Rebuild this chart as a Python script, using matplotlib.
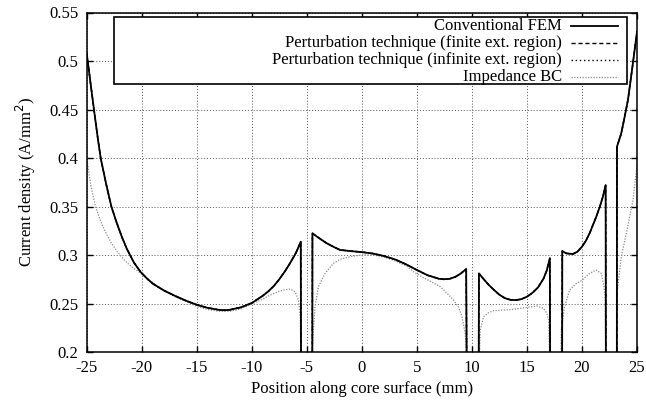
import numpy as np
import matplotlib
matplotlib.use("Agg")
import matplotlib.pyplot as plt
from matplotlib.patches import Rectangle
from matplotlib.lines import Line2D

nan = np.nan

# ---------------- data ----------------
fem_x = [-25, -24.65, -24.34, -24, -23.73, -23.25, -22.76, -22.3, -21.8, -21.36, -20.7, -20.1,
         -19.5, -19, -18, -17, -16, -15, -14, -13, -12.5, -12, -11, -10, -9, -8.5, -8, -7.5,
         -7, -6.5, -6.25, -6, -5.8, -5.55, -5.53, nan,
         -4.5, -4.49, -4.09, -3.6, -3.18, -2.5, -1.97, -1, 0, 1, 2, 3, 4, 5, 6, 7, 7.42, 8,
         8.5, 9, 9.48, 9.52, nan,
         10.62, 10.64, 11, 11.5, 12, 12.5, 13, 13.5, 14, 14.5, 15, 15.5, 16, 16.5, 16.8, 17.08,
         17.1, nan,
         18.2, 18.21, 18.57, 19.18, 19.6, 20, 20.35, 20.69, 21.3, 21.6, 21.9, 22.15, 22.17, nan,
         23.17, 23.18, 23.57, 23.88, 24.18, 24.55, 25]
fem_y = [0.508, 0.477, 0.45, 0.421, 0.40, 0.374, 0.35, 0.334, 0.3185, 0.3065, 0.292, 0.2825,
         0.2755, 0.2705, 0.2635, 0.258, 0.253, 0.2487, 0.2455, 0.2435, 0.243, 0.2435, 0.246,
         0.2505, 0.258, 0.2625, 0.268, 0.275, 0.283, 0.292, 0.297, 0.302, 0.307, 0.3137, 0.2,
         nan,
         0.2, 0.3224, 0.319, 0.3152, 0.312, 0.308, 0.3052, 0.304, 0.303, 0.3015, 0.299,
         0.2955, 0.2905, 0.2845, 0.279, 0.2755, 0.275, 0.2755, 0.2775, 0.281, 0.2855, 0.2, nan,
         0.2, 0.281, 0.276, 0.2695, 0.264, 0.259, 0.2555, 0.2538, 0.2535, 0.2545, 0.257,
         0.261, 0.2665, 0.2755, 0.284, 0.2966, 0.2, nan,
         0.2, 0.304, 0.3017, 0.301, 0.3035, 0.3086, 0.3145, 0.3223, 0.3395, 0.349, 0.360,
         0.372, 0.2, nan,
         0.2, 0.4116, 0.4254, 0.4426, 0.46, 0.491, 0.53]

# perturbation technique results coincide with conventional FEM at this scale
pert_fin_x = list(fem_x)
pert_fin_y = list(fem_y)
pert_inf_x = list(fem_x)
pert_inf_y = list(fem_y)

imp_x = [-25, -24.8, -24.6, -24.2, -23.8, -23.4, -22.8, -22.2, -21.6, -21, -20, -19, -18, -17,
         -16, -15, -14, -13, -12, -11, -10, -9, -8.33, -7.5, -7.12, -6.5, -6.06, -5.76, -5.6,
         -5.55, nan,
         -4.5, -4.4, -4.25, -3.95, -3.34, -2.58, -1.97, -1, 0, 1, 2, 3, 4, 4.7, 5.5, 6.3,
         7.12, 7.7, 8.33, 8.8, 9.1, 9.39, 9.5, nan,
         10.7, 10.76, 11.06, 11.5, 11.97, 13, 13.79, 15, 15.9, 16.5, 16.8, 16.97, 17.05, nan,
         18.1, 18.12, 18.42, 18.88, 19.4, 20, 20.69, 21.3, 21.76, 22.0, 22.12, 22.15, nan,
         23.18, 23.2, 23.57, 24.03, 24.64, 25]
imp_y = [0.40, 0.385, 0.37, 0.35, 0.337, 0.326, 0.313, 0.303, 0.295, 0.2885, 0.2805, 0.2715,
         0.2635, 0.2572, 0.252, 0.247, 0.2438, 0.242, 0.242, 0.2443, 0.2495, 0.2545, 0.2588,
         0.2625, 0.2639, 0.2649, 0.262, 0.2536, 0.2364, 0.2, nan,
         0.2, 0.2227, 0.2467, 0.2673, 0.281, 0.2914, 0.2955, 0.2985, 0.300, 0.300, 0.298,
         0.294, 0.289, 0.2828, 0.277, 0.2725, 0.2673, 0.261, 0.2536, 0.246, 0.2364, 0.219,
         0.2, nan,
         0.2, 0.2227, 0.2364, 0.2405, 0.2426, 0.2433, 0.244, 0.246, 0.2474, 0.245, 0.240,
         0.233, 0.2, nan,
         0.2, 0.2227, 0.2467, 0.264, 0.270, 0.274, 0.281, 0.2845, 0.281, 0.267, 0.2536, 0.2,
         nan,
         0.24, 0.262, 0.298, 0.3223, 0.3567, 0.393]

series_labels = ["Conventional FEM",
                 "Perturbation technique (finite ext. region)",
                 "Perturbation technique (infinite ext. region)",
                 "Impedance BC"]

x_ticks = [-25, -20, -15, -10, -5, 0, 5, 10, 15, 20, 25]
x_tick_labels = ["-25", "-20", "-15", "-10", "-5", "0", "5", "10", "15", "20", "25"]
y_ticks = [0.2, 0.25, 0.3, 0.35, 0.4, 0.45, 0.5, 0.55]
y_tick_labels = ["0.2", "0.25", "0.3", "0.35", "0.4", "0.45", "0.5", "0.55"]

# ---------------- figure ----------------
plt.rcParams["font.family"] = ["Liberation Serif", "DejaVu Serif"]
plt.rcParams["font.size"] = 12

W, H = 646, 405
fig = plt.figure(figsize=(W / 100, H / 100), dpi=100)
L, R, T, B = 86.7, 637.0, 12.5, 352.0
ax = fig.add_axes([L / W, 1 - B / H, (R - L) / W, (B - T) / H])

ax.set_xlim(-25, 25)
ax.set_ylim(0.2, 0.55)
ax.set_xticks(x_ticks)
ax.set_xticklabels(x_tick_labels)
ax.set_yticks(y_ticks)
ax.set_yticklabels(y_tick_labels)
ax.tick_params(direction="in", length=4.5, width=1, top=True, right=True,
               labelsize=12)
ax.tick_params(axis="x", pad=5.5)
ax.tick_params(axis="y", pad=6)
for s in ax.spines.values():
    s.set_linewidth(1.1)
    s.set_zorder(6)

ax.grid(True, color="#555555", linestyle=(0, (1, 2)), linewidth=0.7, zorder=0)
ax.set_axisbelow(True)

styles = [dict(color="black", lw=1.3, ls="-"),
          dict(color="black", lw=1.0, ls=(0, (3, 2))),
          dict(color="black", lw=1.0, ls=(0, (1, 2))),
          dict(color="#8a8a8a", lw=0.9, ls=(0, (1, 1.2)))]

ax.plot(imp_x, imp_y, zorder=3, **styles[3])
ax.plot(pert_inf_x, pert_inf_y, zorder=4, **styles[2])
ax.plot(pert_fin_x, pert_fin_y, zorder=4, **styles[1])
ax.plot(fem_x, fem_y, zorder=5, **styles[0])

ax.set_xlabel("Position along core surface (mm)", fontsize=12, labelpad=4)
ax.set_ylabel("Current density (A/mm$^2$)", fontsize=12, labelpad=8)


def fy(py):
    return 1 - (py - T) / (B - T)


def fx(px):
    return (px - L) / (R - L)


# legend box (gnuplot style: wide box, text right-aligned, samples on right)
ax.add_patch(Rectangle((fx(114.3), fy(84.0)), fx(627.3) - fx(114.3), fy(17.3) - fy(84.0),
                       transform=ax.transAxes, facecolor="white", edgecolor="black",
                       linewidth=1.2, zorder=2.5))
row_y = [25.5, 42.8, 60.0, 77.2]
for lab, st, py in zip(series_labels, styles, row_y):
    ax.text(fx(561.7), fy(py), lab, transform=ax.transAxes, ha="right", va="center",
            fontsize=12, zorder=7)
    ax.add_line(Line2D([fx(571.0), fx(617.5)], [fy(py), fy(py)], transform=ax.transAxes,
                       zorder=7, color=st["color"], linestyle=st["ls"],
                       linewidth=st["lw"]))

fig.savefig("out.png", dpi=100)
